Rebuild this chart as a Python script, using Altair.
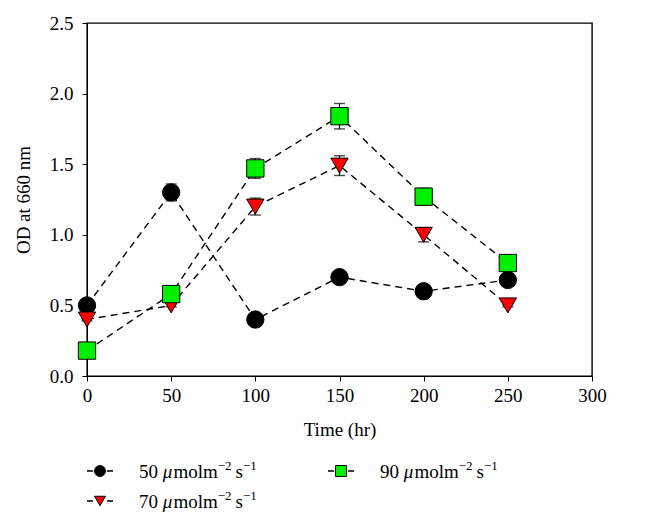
import altair as alt
import pandas as pd

time_hr = [0, 50, 100, 150, 200, 250]
series_values = ["50", "70", "90"]
series_unit = ["μ", "molm", "−2", "s", "−1"]
od_50 = [0.50, 1.30, 0.40, 0.70, 0.60, 0.68]
od_70 = [0.40, 0.50, 1.20, 1.49, 1.00, 0.50]
od_90 = [0.18, 0.58, 1.47, 1.84, 1.27, 0.80]
err_50 = [0.01, 0.06, 0.01, 0.01, 0.01, 0.01]
err_70 = [0.01, 0.01, 0.06, 0.07, 0.05, 0.01]
err_90 = [0.01, 0.01, 0.07, 0.09, 0.06, 0.01]
series_colors = ["#000000", "#ff0000", "#00f000"]
series_shapes = ["circle", "triangle-down", "square"]
x_ticks = [0, 50, 100, 150, 200, 250, 300]
y_ticks = [0.0, 0.5, 1.0, 1.5, 2.0, 2.5]

FONT = "Liberation Serif"
FS = 19
SUP = 13

series_labels = [v + " μmolm⁻² s⁻¹" for v in series_values]

rows = []
for lab, vals, errs in zip(series_labels, [od_50, od_70, od_90], [err_50, err_70, err_90]):
    for t, v, e in zip(time_hr, vals, errs):
        rows.append({"series": lab, "t": t, "od": v, "lo": v - e, "hi": v + e})
df = pd.DataFrame(rows)

x_enc = alt.X("t:Q", scale=alt.Scale(domain=[0, 300], nice=False),
              axis=alt.Axis(values=x_ticks, title="Time (hr)", grid=False,
                            tickSize=5, labelPadding=5, titlePadding=15,
                            domainColor="black", tickColor="black",
                            labelFont=FONT, titleFont=FONT, labelFontSize=FS,
                            titleFontSize=FS, titleFontWeight="normal",
                            labelColor="black", titleColor="black", labelFlush=False))
y_scale = alt.Scale(domain=[0, 2.5], nice=False)
y_axis = alt.Axis(values=y_ticks, format=".1f", title="OD at 660 nm", grid=False,
                  tickSize=5, labelPadding=9, titlePadding=16,
                  domainColor="black", tickColor="black",
                  labelFont=FONT, titleFont=FONT, labelFontSize=FS,
                  titleFontSize=FS, titleFontWeight="normal",
                  labelColor="black", titleColor="black", labelFlush=False)

base = alt.Chart(df)

lines = base.mark_line(color="black", strokeDash=[7, 5], strokeWidth=1.4).encode(
    x=x_enc, y=alt.Y("od:Q", scale=y_scale, axis=y_axis), detail="series:N")

err = base.mark_rule(color="black", strokeWidth=1.2).encode(
    x="t:Q", y="lo:Q", y2="hi:Q")
cap_hi = base.mark_tick(color="black", orient="horizontal", size=11, thickness=1.4).encode(
    x="t:Q", y="hi:Q")
cap_lo = base.mark_tick(color="black", orient="horizontal", size=11, thickness=1.4).encode(
    x="t:Q", y="lo:Q")

points = base.mark_point(stroke="black", strokeWidth=1, opacity=1, fillOpacity=1, size=300).encode(
    x="t:Q", y="od:Q",
    fill=alt.Fill("series:N", scale=alt.Scale(domain=series_labels, range=series_colors), legend=None),
    shape=alt.Shape("series:N", scale=alt.Scale(domain=series_labels, range=series_shapes), legend=None))

main = alt.layer(lines, err, cap_hi, cap_lo, points).properties(
    width=505, height=353,
    view=alt.ViewBackground(stroke="black", strokeWidth=1.4))

# Legend (two columns, filled column-wise as in the reference)
# approximate advance widths (em) for Liberation Serif, used to place the text pieces
EM = {"0": .5, "1": .5, "2": .5, "5": .5, "7": .5, "9": .5, " ": .25, "m": .778,
      "o": .5, "l": .278, "s": .389, "−": .564, "μ": .56}

def text_w(s, size):
    return sum(EM.get(c, .5) for c in s) * size

legend_order = [0, 2, 1]
leg_rows = []
piece_rows = []
for pos, idx in enumerate(legend_order):
    col, row = pos % 2, pos // 2
    sx = 13 + col * 241
    leg_rows.append({"series": series_labels[idx], "sx": sx, "x1": sx - 13, "x2": sx + 13, "row": row})
    x = sx + 39
    pieces = [(series_values[idx] + " ", "normal"), (series_unit[0], "italic"),
              (series_unit[1], "normal"), (series_unit[2], "sup"),
              (series_unit[3], "normal"), (series_unit[4], "sup")]
    for txt, style in pieces:
        if style == "normal" and txt == series_unit[3]:
            x += 4
        piece_rows.append({"txt": txt, "style": style, "px": x, "row": row})
        x += text_w(txt, SUP if style == "sup" else FS)
leg_df = pd.DataFrame(leg_rows)
piece_df = pd.DataFrame(piece_rows)

lx = alt.Scale(domain=[0, 505], nice=False)
ly = alt.Scale(domain=[-0.5, 1.5], nice=False, reverse=True)
lbase = alt.Chart(leg_df)
leg_line = lbase.mark_rule(color="black", strokeWidth=1.4, strokeDash=[6, 14]).encode(
    x=alt.X("x1:Q", scale=lx, axis=None), x2="x2:Q",
    y=alt.Y("row:Q", scale=ly, axis=None))
leg_pts = lbase.mark_point(stroke="black", strokeWidth=1, opacity=1, fillOpacity=1, size=120).encode(
    x=alt.X("sx:Q", scale=lx, axis=None), y=alt.Y("row:Q", scale=ly, axis=None),
    fill=alt.Fill("series:N", scale=alt.Scale(domain=series_labels, range=series_colors), legend=None),
    shape=alt.Shape("series:N", scale=alt.Scale(domain=series_labels, range=series_shapes), legend=None))

pbase = alt.Chart(piece_df)
txt_normal = pbase.mark_text(align="left", baseline="alphabetic", dy=7, font=FONT, fontSize=FS,
                             color="black").encode(
    x=alt.X("px:Q", scale=lx, axis=None), y=alt.Y("row:Q", scale=ly, axis=None),
    text="txt:N").transform_filter(alt.datum.style == "normal")
txt_italic = pbase.mark_text(align="left", baseline="alphabetic", dy=7, font=FONT, fontSize=FS,
                             fontStyle="italic", color="black").encode(
    x=alt.X("px:Q", scale=lx, axis=None), y=alt.Y("row:Q", scale=ly, axis=None),
    text="txt:N").transform_filter(alt.datum.style == "italic")
txt_sup = pbase.mark_text(align="left", baseline="alphabetic", dy=-1, font=FONT, fontSize=SUP,
                          color="black").encode(
    x=alt.X("px:Q", scale=lx, axis=None), y=alt.Y("row:Q", scale=ly, axis=None),
    text="txt:N").transform_filter(alt.datum.style == "sup")

legend = alt.layer(leg_line, leg_pts, txt_normal, txt_italic, txt_sup).properties(
    width=505, height=60, view=alt.ViewBackground(strokeOpacity=0))

chart = alt.vconcat(main, legend, spacing=16).configure(
    font=FONT, padding={"left": 5, "top": 5, "right": 5, "bottom": 5}
).resolve_scale(fill="independent", shape="independent")

chart.save("out.html", embed_options={"renderer": "svg", "actions": False})
